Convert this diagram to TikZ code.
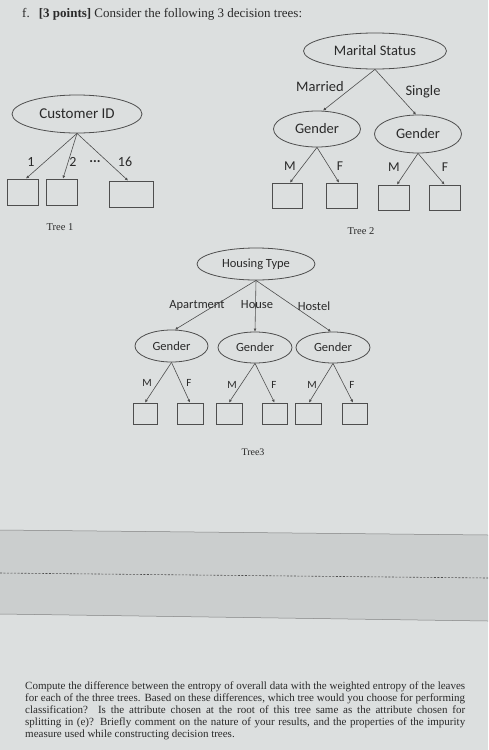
\documentclass[tikz,border=0pt]{standalone}
\usepackage{fontspec}
\setmainfont{Liberation Serif}
\newfontfamily\calfnt{Carlito}
\usetikzlibrary{shapes.geometric,arrows.meta}
\definecolor{bg}{HTML}{DCDFDF}
\definecolor{band}{HTML}{CBCECE}
\definecolor{ink}{HTML}{2A2A2A}
\definecolor{ln}{HTML}{4E4E4E}
\tikzset{
  ell/.style={ellipse,draw=ln,line width=0.8pt,inner sep=0pt,text=ink,font=\calfnt},
  leaf/.style={rectangle,draw=ln,line width=0.9pt,inner sep=0pt},
  edge/.style={draw=ln,line width=0.6pt,-{Latex[length=3pt,width=3pt]}},
  lab/.style={inner sep=0pt,text=ink,font=\calfnt},
  ser/.style={inner sep=0pt,text=ink},
}
\begin{document}
\begin{tikzpicture}[x=1pt,y=-1pt]
\useasboundingbox (0,0) rectangle (488,750);
\fill[bg] (0,0) rectangle (488,750);
\fill[band] (0,530) -- (488,535) -- (488,621) -- (0,614) -- cycle;
\draw[ln!70,line width=0.5pt] (0,530) -- (488,535);
\draw[ln!70,line width=0.5pt] (0,614) -- (488,621);
\draw[ln,line width=0.6pt,dash pattern=on 2pt off 1.5pt] (0,573) -- (488,578);

% title
\node[ser,anchor=base west,font=\fontsize{13}{15}\selectfont] (title) at (22,17) {f.\hspace{0.7em}\textbf{[3 points]} Consider the following 3 decision trees:};

% Tree 1
\node[ell,minimum width=130,minimum height=38,font=\calfnt\fontsize{15}{16}\selectfont] (cid) at (77,114) {Customer ID};
\node[leaf,minimum width=31,minimum height=26] (t1a) at (22.5,192) {};
\node[leaf,minimum width=31,minimum height=26] (t1b) at (61.5,192) {};
\node[leaf,minimum width=44,minimum height=26] (t1c) at (131,194) {};
\draw[edge] (cid.south) -- ([xshift=3.5pt]t1a.north);
\draw[edge] (cid.south) -- ([xshift=1.5pt]t1b.north);
\draw[edge] (cid.south) -- ([xshift=-3pt]t1c.north);
\node[lab,font=\calfnt\fontsize{14}{16}\selectfont] (l1) at (31,162) {1};
\node[lab,font=\calfnt\fontsize{14}{16}\selectfont] (l2) at (73,162) {2};
\node[lab,font=\calfnt\fontsize{14}{16}\selectfont] (ld) at (95,162) {\textbf{...}};
\node[lab,font=\calfnt\fontsize{14}{16}\selectfont] (l16) at (125,162) {16};
\node[ser,font=\fontsize{10.5}{12}\selectfont] (tr1) at (60,227) {Tree 1};

% Tree 2
\node[ell,minimum width=143,minimum height=36,font=\calfnt\fontsize{14.5}{16}\selectfont] (ms) at (375,51) {Marital Status};
\node[ell,minimum width=87,minimum height=36,font=\calfnt\fontsize{14.5}{16}\selectfont] (g2a) at (317,129) {Gender};
\node[ell,minimum width=87,minimum height=38,font=\calfnt\fontsize{14.5}{16}\selectfont] (g2b) at (418,134) {Gender};
\draw[edge] (ms.south) -- ([xshift=6pt]g2a.north);
\draw[edge] (ms.south) -- ([xshift=-2pt]g2b.north);
\node[lab,font=\calfnt\fontsize{14.5}{16}\selectfont] (mar) at (320,87) {Married};
\node[lab,font=\calfnt\fontsize{14.5}{16}\selectfont] (sng) at (423,92) {Single};
\node[leaf,minimum width=30,minimum height=25] (t2a) at (287,195.5) {};
\node[leaf,minimum width=31,minimum height=25] (t2b) at (341.5,195.5) {};
\node[leaf,minimum width=31,minimum height=25] (t2c) at (393.5,197.5) {};
\node[leaf,minimum width=31,minimum height=25] (t2d) at (444.5,197.5) {};
\draw[edge] (g2a.south) -- ([xshift=3pt]t2a.north);
\draw[edge] (g2a.south) -- ([xshift=-2.5pt]t2b.north);
\draw[edge] (g2b.south) -- ([xshift=3.5pt]t2c.north);
\draw[edge] (g2b.south) -- (t2d.north);
\node[lab,font=\calfnt\fontsize{13.5}{16}\selectfont] (m2a) at (290,166) {M};
\node[lab,font=\calfnt\fontsize{13.5}{16}\selectfont] (f2a) at (340,166) {F};
\node[lab,font=\calfnt\fontsize{13.5}{16}\selectfont] (m2b) at (394,167) {M};
\node[lab,font=\calfnt\fontsize{13.5}{16}\selectfont] (f2b) at (445,167) {F};
\node[ser,font=\fontsize{10.5}{12}\selectfont] (tr2) at (361,231) {Tree 2};

% Tree 3
\node[ell,minimum width=118,minimum height=32,font=\calfnt\fontsize{12.5}{14}\selectfont] (ht) at (256,264) {Housing Type};
\node[ell,minimum width=73,minimum height=32,font=\calfnt\fontsize{12.5}{14}\selectfont] (g3a) at (171.5,346) {Gender};
\node[ell,minimum width=74,minimum height=31,font=\calfnt\fontsize{12.5}{14}\selectfont] (g3b) at (255,347.5) {Gender};
\node[ell,minimum width=74,minimum height=31,font=\calfnt\fontsize{12.5}{14}\selectfont] (g3c) at (333,347.5) {Gender};
\draw[edge] (ht.south) -- ([xshift=3.5pt]g3a.north);
\draw[edge] (ht.south) -- (g3b.north);
\draw[edge] (ht.south) -- ([xshift=-2pt]g3c.north);
\node[lab,font=\calfnt\fontsize{12.5}{14}\selectfont] (apt) at (197,305) {Apartment};
\node[lab,font=\calfnt\fontsize{12.5}{14}\selectfont] (hou) at (257,305) {House};
\node[lab,font=\calfnt\fontsize{12.5}{14}\selectfont] (hos) at (314,306) {Hostel};
\node[leaf,minimum width=24,minimum height=21] (b1) at (145,413.5) {};
\node[leaf,minimum width=26,minimum height=21] (b2) at (190,413.5) {};
\node[leaf,minimum width=26,minimum height=21] (b3) at (229,413.5) {};
\node[leaf,minimum width=25,minimum height=21] (b4) at (274.5,413.5) {};
\node[leaf,minimum width=26,minimum height=21] (b5) at (308,413.5) {};
\node[leaf,minimum width=25,minimum height=21] (b6) at (354.5,413.5) {};
\draw[edge] (g3a.south) -- (b1.north);
\draw[edge] (g3a.south) -- (b2.north);
\draw[edge] (g3b.south) -- (b3.north);
\draw[edge] (g3b.south) -- (b4.north);
\draw[edge] (g3c.south) -- ([xshift=1pt]b5.north);
\draw[edge] (g3c.south) -- ([xshift=-1.5pt]b6.north);
\node[lab,font=\calfnt\fontsize{11}{13}\selectfont] (m3a) at (147,383) {M};
\node[lab,font=\calfnt\fontsize{11}{13}\selectfont] (f3a) at (189,383) {F};
\node[lab,font=\calfnt\fontsize{11}{13}\selectfont] (m3b) at (232,385) {M};
\node[lab,font=\calfnt\fontsize{11}{13}\selectfont] (f3b) at (274,385) {F};
\node[lab,font=\calfnt\fontsize{11}{13}\selectfont] (m3c) at (312,385) {M};
\node[lab,font=\calfnt\fontsize{11}{13}\selectfont] (f3c) at (352,385) {F};
\node[ser,font=\fontsize{10}{12}\selectfont] (tr3) at (253,452) {Tree3};

% question text
\node[ser,anchor=north west,text width=440pt,align=justify,font=\fontsize{11}{12}\selectfont] (q) at (25,682) {Compute the difference between the entropy of overall data with the weighted entropy of the leaves\linebreak for each of the three trees. Based on these differences, which tree would you choose for performing\linebreak classification? Is the attribute chosen at the root of this tree same as the attribute chosen for\linebreak splitting in (e)? Briefly comment on the nature of your results, and the properties of the impurity\linebreak measure used while constructing decision trees.};
\end{tikzpicture}
\end{document}
